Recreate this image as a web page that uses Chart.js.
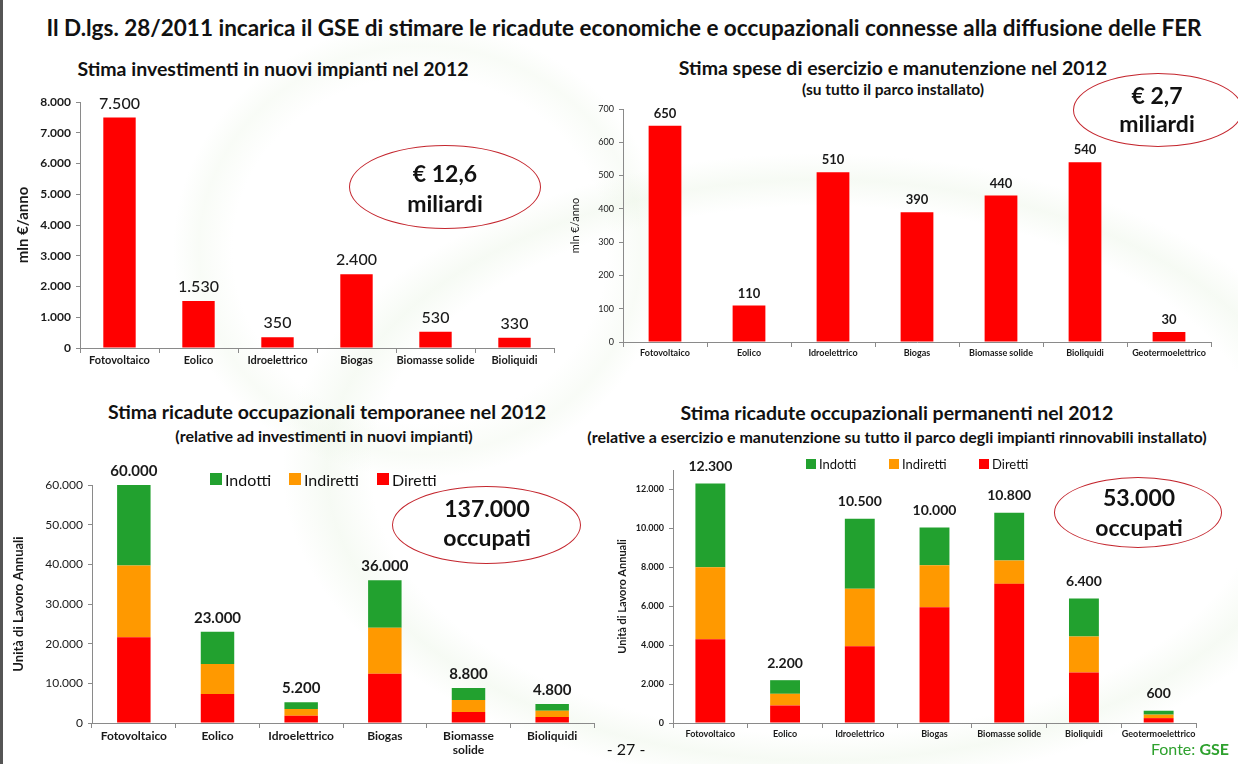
<!DOCTYPE html>
<html>
<head>
<meta charset="utf-8">
<script src="https://cdn.jsdelivr.net/npm/chart.js@4.4.1/dist/chart.umd.min.js"></script>
<style>
  html, body { margin: 0; padding: 0; }
  body { width: 1238px; height: 764px; position: relative; overflow: hidden; background: #fff; font-family: Lato, "Open Sans", sans-serif; color: #111; }
  .bg { position: absolute; inset: 0;
    background:
      radial-gradient(ellipse 560px 330px at 820px 470px, rgba(255,255,255,0) 80%, rgba(230,242,224,0.35) 88%, rgba(255,255,255,0) 96%),
      radial-gradient(ellipse 260px 240px at 420px 250px, rgba(255,255,255,0) 72%, rgba(234,244,228,0.3) 85%, rgba(255,255,255,0) 95%); }
  .edge { position: absolute; left: 0; top: 0; width: 3px; height: 764px; background: #555; }
  .txt { position: absolute; white-space: nowrap; transform: translate(-50%, -50%); font-weight: 700; }
  .wrap { position: absolute; }
  .oval { position: absolute; border: 1px solid #c4262e; border-radius: 50%; box-sizing: border-box; background: rgba(255,255,255,0.6); }
  .leg { position: absolute; white-space: nowrap; display: flex; align-items: center; }
  .leg i { display: inline-block; margin-right: 3px; }
</style>
</head>
<body>
<div class="bg"></div>
<div class="edge"></div>

<div class="txt" style="left:624px;top:27px;font-size:22.5px;">Il D.lgs. 28/2011 incarica il GSE di stimare le ricadute economiche e occupazionali connesse alla diffusione delle FER</div>
<div class="txt" style="left:273px;top:68px;font-size:19.5px;">Stima investimenti in nuovi impianti nel 2012</div>
<div class="txt" style="left:893px;top:67px;font-size:19.5px;">Stima spese di esercizio e manutenzione nel 2012</div>
<div class="txt" style="left:893px;top:89px;font-size:15.5px;">(su tutto il parco installato)</div>
<div class="txt" style="left:327px;top:411px;font-size:19.5px;">Stima ricadute occupazionali temporanee nel 2012</div>
<div class="txt" style="left:324px;top:435px;font-size:16px;">(relative ad investimenti in nuovi impianti)</div>
<div class="txt" style="left:897px;top:412px;font-size:19.5px;">Stima ricadute occupazionali permanenti nel 2012</div>
<div class="txt" style="left:897px;top:436px;font-size:16px;">(relative a esercizio e manutenzione su tutto il parco degli impianti rinnovabili installato)</div>

<div class="wrap" style="left:0;top:60px;"><canvas id="c-inv" width="600" height="320"></canvas></div>
<div class="wrap" style="left:560px;top:60px;"><canvas id="c-om" width="678" height="310"></canvas></div>
<div class="wrap" style="left:0;top:440px;"><canvas id="c-temp" width="620" height="324"></canvas></div>
<div class="wrap" style="left:600px;top:440px;"><canvas id="c-perm" width="638" height="324"></canvas></div>

<div class="oval" style="left:349px;top:145px;width:192px;height:84px;"></div>
<div class="txt" style="left:445px;top:173px;font-size:23px;">€ 12,6</div>
<div class="txt" style="left:445px;top:203px;font-size:23px;">miliardi</div>

<div class="oval" style="left:1073px;top:73px;width:170px;height:74px;"></div>
<div class="txt" style="left:1157px;top:95px;font-size:23px;">€ 2,7</div>
<div class="txt" style="left:1157px;top:123px;font-size:23px;">miliardi</div>

<div class="oval" style="left:392px;top:486px;width:189px;height:78px;"></div>
<div class="txt" style="left:487px;top:508px;font-size:23px;">137.000</div>
<div class="txt" style="left:487px;top:537px;font-size:23px;">occupati</div>

<div class="oval" style="left:1054px;top:477px;width:168px;height:71px;"></div>
<div class="txt" style="left:1139px;top:497px;font-size:23px;">53.000</div>
<div class="txt" style="left:1139px;top:527px;font-size:23px;">occupati</div>

<div id="leg-temp"></div>
<div id="leg-perm"></div>

<div class="txt" style="left:626px;top:748px;font-size:16px;font-weight:400;">- 27 -</div>
<div style="position:absolute;right:9px;top:739px;font-size:16px;color:#2ea12e;">Fonte: <b>GSE</b></div>

<script>
// ---- data ----
const invCats = ["Fotovoltaico", "Eolico", "Idroelettrico", "Biogas", "Biomasse solide", "Bioliquidi"];
const invValues = [7500, 1530, 350, 2400, 530, 330];
const invTicks = [0, 1000, 2000, 3000, 4000, 5000, 6000, 7000, 8000];

const omCats = ["Fotovoltaico", "Eolico", "Idroelettrico", "Biogas", "Biomasse solide", "Bioliquidi", "Geotermoelettrico"];
const omValues = [650, 110, 510, 390, 440, 540, 30];
const omTicks = [0, 100, 200, 300, 400, 500, 600, 700];

const tempCats = ["Fotovoltaico", "Eolico", "Idroelettrico", "Biogas", ["Biomasse", "solide"], "Bioliquidi"];
const tempDiretti = [21600, 7300, 1800, 12400, 2800, 1500];
const tempIndiretti = [18100, 7600, 1700, 11600, 3000, 1600];
const tempIndotti = [20300, 8100, 1700, 12000, 3000, 1700];
const tempTotals = [60000, 23000, 5200, 36000, 8800, 4800];
const tempTicks = [0, 10000, 20000, 30000, 40000, 50000, 60000];

const permCats = ["Fotovoltaico", "Eolico", "Idroelettrico", "Biogas", "Biomasse solide", "Bioliquidi", "Geotermoelettrico"];
const permDiretti = [4300, 900, 3950, 5950, 7150, 2600, 250];
const permIndiretti = [3700, 600, 2950, 2150, 1200, 1850, 180];
const permIndotti = [4300, 700, 3600, 1950, 2450, 1950, 200];
const permTotals = [12300, 2200, 10500, 10000, 10800, 6400, 600];
const permTicks = [0, 2000, 4000, 6000, 8000, 10000, 12000];

const seriesNames = ["Diretti", "Indiretti", "Indotti"];

const RED = "#ff0000", ORANGE = "#ff9900", GREEN = "#22a12f";
const AXIS = "#8a8a8a", INK = "#1a1a1a";
const FAMILY = "Lato, 'Open Sans', sans-serif";

Chart.defaults.font.family = FAMILY;
Chart.defaults.color = INK;
Chart.defaults.animation = false;

const fmtIt = v => String(v).replace(/\B(?=(\d{3})+(?!\d))/g, ".");

// value labels over the top of every bar (or stack)
const topLabels = {
  id: "topLabels",
  afterDatasetsDraw(chart, args, opts) {
    const ctx = chart.ctx;
    const meta = chart.getDatasetMeta(chart.data.datasets.length - 1);
    ctx.save();
    ctx.font = opts.font;
    ctx.fillStyle = INK;
    ctx.textAlign = "center";
    ctx.textBaseline = "middle";
    meta.data.forEach((bar, i) => ctx.fillText(fmtIt(opts.values[i]), bar.x, bar.y - opts.gap));
    ctx.restore();
  }
};

// g: geometry of the plot box inside the canvas
function makeChart(id, labels, datasets, g) {
  return new Chart(document.getElementById(id), {
    type: "bar",
    data: { labels, datasets },
    plugins: [topLabels],
    options: {
      responsive: false,
      layout: { padding: { left: g.padLeft, top: g.padTop, right: g.padRight, bottom: 0 } },
      plugins: {
        legend: { display: false },
        tooltip: { enabled: false },
        topLabels: { values: g.totals, font: g.valueFont, gap: g.gap }
      },
      scales: {
        x: {
          stacked: g.stacked,
          grid: { drawOnChartArea: false, offset: true, tickLength: 5, color: AXIS },
          border: { color: AXIS },
          ticks: { font: g.xFont, color: INK, padding: 1, maxRotation: 0, autoSkip: false },
          afterFit: s => { s.height = g.xHeight; }
        },
        y: {
          stacked: g.stacked,
          min: 0, max: g.max,
          grid: { drawOnChartArea: false, tickLength: 4, color: AXIS },
          border: { color: AXIS },
          ticks: { font: g.yFont, color: INK, padding: 5, callback: v => fmtIt(v) },
          afterBuildTicks: s => { s.ticks = g.ticks.map(v => ({ value: v })); },
          title: { display: true, text: g.yTitle, font: g.yTitleFont, color: INK, padding: { top: 4, bottom: 4 } },
          afterFit: s => { s.width = g.yWidth; }
        }
      }
    }
  });
}

function stackSets(d, ind, indo, pct) {
  return [
    { label: seriesNames[0], data: d, backgroundColor: RED, categoryPercentage: 1, barPercentage: pct },
    { label: seriesNames[1], data: ind, backgroundColor: ORANGE, categoryPercentage: 1, barPercentage: pct },
    { label: seriesNames[2], data: indo, backgroundColor: GREEN, categoryPercentage: 1, barPercentage: pct }
  ];
}

makeChart("c-inv", invCats,
  [{ label: "Investimenti", data: invValues, backgroundColor: RED, categoryPercentage: 1, barPercentage: 0.41 }],
  { padLeft: 10, padTop: 42, padRight: 46, yWidth: 70, xHeight: 32, max: 8000, ticks: invTicks,
    yTitle: "mln €/anno", yTitleFont: { size: 15, weight: "700" },
    xFont: { size: 11, weight: "700" }, yFont: { size: 12, weight: "700" },
    valueFont: "500 16px " + FAMILY, gap: 14, totals: invValues, stacked: false });

makeChart("c-om", omCats,
  [{ label: "Spese", data: omValues, backgroundColor: RED, categoryPercentage: 1, barPercentage: 0.39 }],
  { padLeft: 5, padTop: 49, padRight: 27, yWidth: 58, xHeight: 28, max: 700, ticks: omTicks,
    yTitle: "mln €/anno", yTitleFont: { size: 11, weight: "400" },
    xFont: { size: 9, weight: "700" }, yFont: { size: 9 },
    valueFont: "700 13px " + FAMILY, gap: 12, totals: omValues, stacked: false });

makeChart("c-temp", tempCats, stackSets(tempDiretti, tempIndiretti, tempIndotti, 0.4),
  { padLeft: 7, padTop: 45, padRight: 26, yWidth: 85, xHeight: 41, max: 60000, ticks: tempTicks,
    yTitle: "Unità di Lavoro Annuali", yTitleFont: { size: 13, weight: "700" },
    xFont: { size: 12, weight: "700" }, yFont: { size: 12 },
    valueFont: "700 15px " + FAMILY, gap: 14, totals: tempTotals, stacked: true });

makeChart("c-perm", permCats, stackSets(permDiretti, permIndiretti, permIndotti, 0.4),
  { padLeft: 12, padTop: 30, padRight: 42, yWidth: 61, xHeight: 41, max: 13000, ticks: permTicks,
    yTitle: "Unità di Lavoro Annuali", yTitleFont: { size: 11, weight: "700" },
    xFont: { size: 9, weight: "700" }, yFont: { size: 9, weight: "700" },
    valueFont: "700 14px " + FAMILY, gap: 17, totals: permTotals, stacked: true });

// legends (Indotti, Indiretti, Diretti — top to bottom of the stack)
function legend(id, xs, y, box, size) {
  const colors = [RED, ORANGE, GREEN];
  const el = document.getElementById(id);
  el.innerHTML = [2, 1, 0].map((k, n) =>
    `<div class="leg" style="left:${xs[n]}px;top:${y - size * 0.7}px;font-size:${size}px;">` +
    `<i style="width:${box}px;height:${box}px;background:${colors[k]}"></i>${seriesNames[k]}</div>`).join("");
}
legend("leg-temp", [210, 289, 377], 481, 12, 16);
legend("leg-perm", [806, 889, 979], 465, 10, 13);
</script>
</body>
</html>
